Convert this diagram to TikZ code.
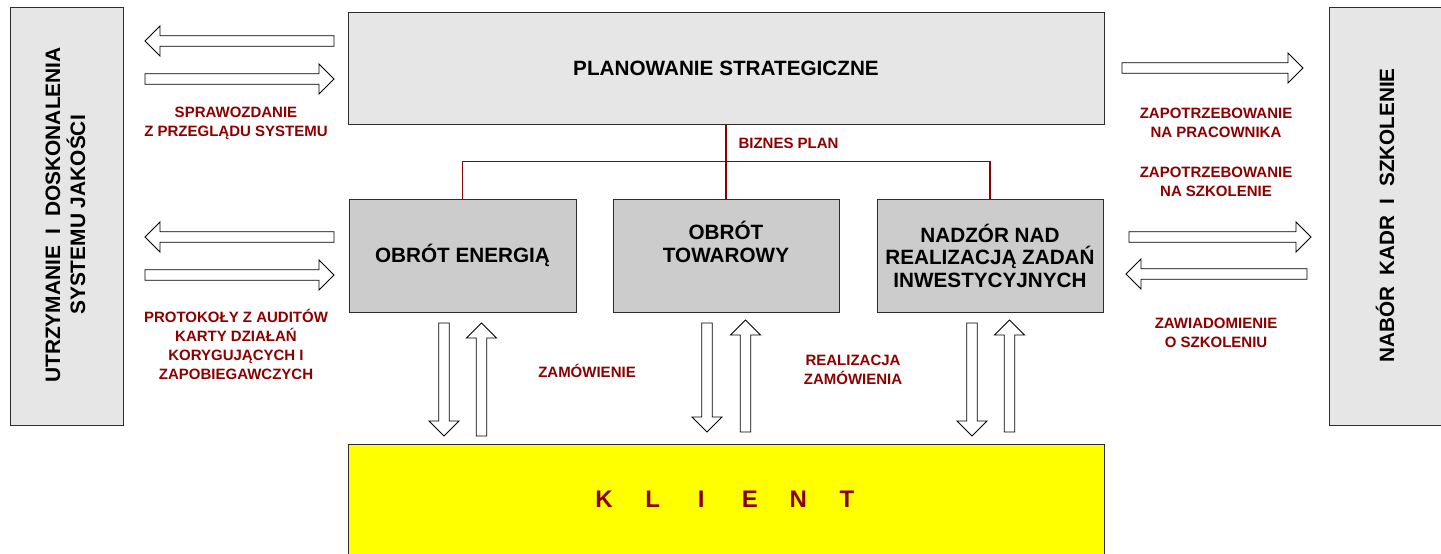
\documentclass[tikz,border=0pt]{standalone}
\usepackage{fontspec}
\setmainfont{Liberation Sans}
\definecolor{dred}{RGB}{140,0,0}
\definecolor{lgray}{RGB}{230,230,230}
\definecolor{mgray}{RGB}{204,204,204}
\definecolor{bord}{RGB}{45,45,45}
\definecolor{kyellow}{RGB}{255,255,0}
\tikzset{
  box/.style={draw=bord, line width=1pt, inner sep=0pt, align=center},
  lbox/.style={box, fill=lgray},
  mbox/.style={box, fill=mgray},
  btxt/.style={font=\fontsize{20.7}{23}\selectfont\bfseries, align=center, inner sep=0pt},
  rtxt/.style={font=\fontsize{15}{19}\selectfont\bfseries, text=dred, align=center, inner sep=0pt},
  blk/.style={draw=black, fill=white, line width=0.9pt, line join=miter},
  rline/.style={draw=dred, line width=1.8pt}
}
\newcommand\ArrR[3]{\draw[blk] (#1,#3-5.25) -- (#2-15,#3-5.25) -- (#2-15,#3-15) -- (#2,#3) -- (#2-15,#3+15) -- (#2-15,#3+5.25) -- (#1,#3+5.25) -- cycle;}
\newcommand\ArrL[3]{\draw[blk] (#2,#3-5.25) -- (#1+15,#3-5.25) -- (#1+15,#3-15) -- (#1,#3) -- (#1+15,#3+15) -- (#1+15,#3+5.25) -- (#2,#3+5.25) -- cycle;}
\newcommand\ArrD[3]{\draw[blk] (#1-5.25,#2) -- (#1-5.25,#3-15) -- (#1-15,#3-15) -- (#1,#3) -- (#1+15,#3-15) -- (#1+5.25,#3-15) -- (#1+5.25,#2) -- cycle;}
\newcommand\ArrU[3]{\draw[blk] (#1-5.25,#3) -- (#1-5.25,#2+15) -- (#1-15,#2+15) -- (#1,#2) -- (#1+15,#2+15) -- (#1+5.25,#2+15) -- (#1+5.25,#3) -- cycle;}
\begin{document}
\begin{tikzpicture}[x=1pt,y=-1pt]
\useasboundingbox (0,0) rectangle (1441,554);
% side boxes
\node[lbox, minimum width=113, minimum height=418] (qual) at (66.5,216) {};
\node[btxt, rotate=90, font=\fontsize{20.9}{25}\selectfont\bfseries] (qualt) at (65.5,215) {UTRZYMANIE\ \ I\ \ DOSKONALENIA\\SYSTEMU JAKOŚCI};
\node[lbox, minimum width=130, minimum height=418] (hr) at (1394,216) {};
\node[btxt, rotate=90] (hrt) at (1385,215.5) {NABÓR\ \ KADR\ \ I\ \ SZKOLENIE};
% planning
\node[lbox, minimum width=756, minimum height=112, btxt] (plan) at (726,68) {PLANOWANIE STRATEGICZNE};
% middle boxes
\node[mbox, minimum width=227, minimum height=113, btxt] (en) at (462.5,255.5) {OBRÓT ENERGIĄ};
\node[mbox, minimum width=226, minimum height=113] (tow) at (726,255.5) {};
\node[btxt] (towt) at (726,241.5) {OBRÓT\\TOWAROWY};
\node[mbox, minimum width=226, minimum height=113, btxt, font=\fontsize{20.7}{22.5}\selectfont\bfseries] (nad) at (990,255.5) {NADZÓR NAD\\REALIZACJĄ ZADAŃ\\INWESTYCYJNYCH};
% client
\node[box, fill=kyellow, minimum width=756, minimum height=130] (kl) at (726,509) {};
\node[font=\fontsize{24}{28}\selectfont\bfseries, text=dred, inner sep=0pt] (klt) at (725.5,499) {\makebox[48.6pt]{K}\makebox[48.6pt]{L}\makebox[48.6pt]{I}\makebox[48.6pt]{E}\makebox[48.6pt]{N}\makebox[48.6pt]{T}};
% red lines
\draw[rline] (plan.south) -- (tow.north);
\draw[rline] (en.north) -- ++(0,-37) -| (nad.north);
% labels
\node[rtxt] (lb1) at (788.5,143) {BIZNES PLAN};
\node[rtxt] (lb2) at (236,123.5) {SPRAWOZDANIE\\Z PRZEGLĄDU SYSTEMU};
\node[rtxt] (lb3) at (236,344.5) {PROTOKOŁY Z AUDITÓW\\KARTY DZIAŁAŃ\\KORYGUJĄCYCH I\\ZAPOBIEGAWCZYCH};
\node[rtxt] (lb4) at (587,371) {ZAMÓWIENIE};
\node[rtxt] (lb5) at (853,370) {REALIZACJA\\ZAMÓWIENIA};
\node[rtxt] (lb6) at (1216,122.5) {ZAPOTRZEBOWANIE\\NA PRACOWNIKA};
\node[rtxt] (lb7) at (1216,181.5) {ZAPOTRZEBOWANIE\\NA SZKOLENIE};
\node[rtxt] (lb8) at (1216,332.5) {ZAWIADOMIENIE\\O SZKOLENIU};
% block arrows left
\ArrL{145}{334}{41}
\ArrR{145}{334}{79}
\ArrL{145}{334}{237}
\ArrR{145}{334}{275}
% block arrows right
\ArrR{1122}{1303}{68}
\ArrR{1129}{1311}{237}
\ArrL{1126}{1307}{274}
% vertical arrows
\ArrD{444}{323}{436}
\ArrU{481.5}{323}{436}
\ArrD{707}{323}{432}
\ArrU{745.5}{320}{432}
\ArrD{972}{323}{436}
\ArrU{1009.5}{320}{432}
\end{tikzpicture}
\end{document}
